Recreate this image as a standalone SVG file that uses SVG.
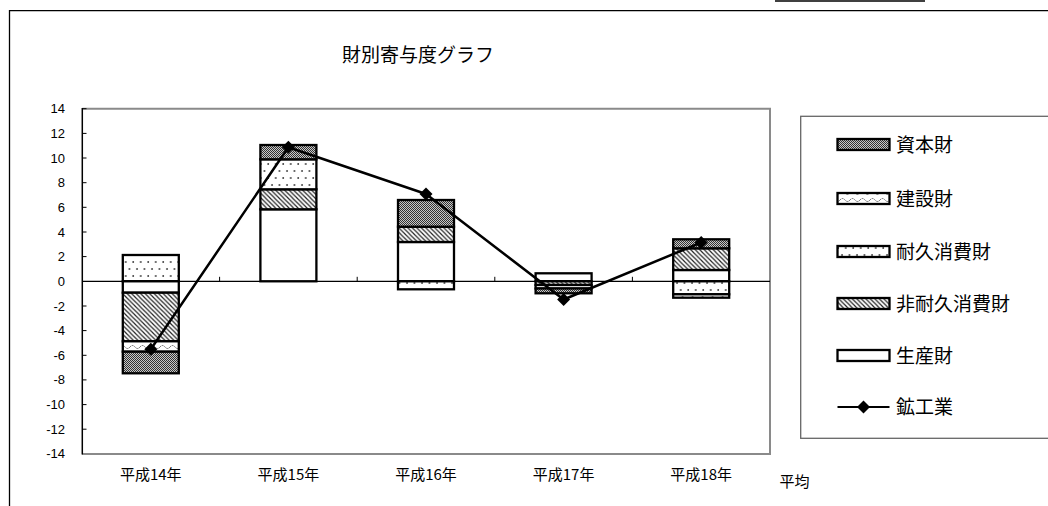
<svg xmlns="http://www.w3.org/2000/svg" width="1048" height="506" viewBox="0 0 1048 506">
<style>
.jp{font-family:"Noto Sans CJK JP","Noto Sans CJK SC",sans-serif;fill:#000}
.num{font-family:"Liberation Sans",Arial,sans-serif;font-size:13px;fill:#000;text-anchor:end}
.seg{stroke:#000;stroke-width:2.3}
.tick{stroke:#000;stroke-width:1}
</style>
<defs>
<pattern id="pCap" width="2" height="2" patternUnits="userSpaceOnUse"><rect width="2" height="2" fill="#c8c8c8"/><rect width="1" height="1" fill="#333"/><rect x="1" y="1" width="1" height="1" fill="#333"/></pattern>
<pattern id="pWave" width="10" height="7" patternUnits="userSpaceOnUse"><rect width="10" height="7" fill="#fff"/><path d="M0,4 Q2.5,1 5,4 T10,4" fill="none" stroke="#555" stroke-width="1" stroke-dasharray="1.5,1"/></pattern>
<pattern id="pDot" width="7.5" height="14" patternUnits="userSpaceOnUse"><rect width="7.5" height="14" fill="#fff"/><circle cx="2" cy="3" r="0.9" fill="#333"/><circle cx="5.75" cy="10" r="0.9" fill="#333"/></pattern>
<pattern id="pHatch" width="4.5" height="4.5" patternUnits="userSpaceOnUse"><rect width="4.5" height="4.5" fill="#fff"/><path d="M-1,-1 L5.5,5.5 M-1,3.5 L1,5.5 M3.5,-1 L5.5,1" stroke="#222" stroke-width="1.2"/></pattern>
<path id="dia" d="M0,-6.5 L6.5,0 L0,6.5 L-6.5,0 Z" fill="#000"/>
</defs>
<rect width="1048" height="506" fill="#fff"/>
<g id="frame">
<path d="M9.5,510 L9.5,10.7 L1050,10.7" fill="none" stroke="#000" stroke-width="1.3"/>
<line x1="775" y1="1" x2="925" y2="1" stroke="#000" stroke-width="1.5"/>
</g>
<g id="title"><text class="jp" x="418" y="62" font-size="19" text-anchor="middle">財別寄与度グラフ</text></g>
<g id="plot-area">
<path d="M82.3,108.7 L770,108.7 L770,453.9 L82.3,453.9" fill="none" stroke="#8a8a8a" stroke-width="2"/>
<line x1="82.3" y1="108" x2="82.3" y2="454.5" stroke="#000" stroke-width="1.5"/>
<g class="tick">
<line x1="82.3" y1="108.7" x2="86.5" y2="108.7"/><line x1="82.3" y1="133.4" x2="86.5" y2="133.4"/><line x1="82.3" y1="158" x2="86.5" y2="158"/><line x1="82.3" y1="182.7" x2="86.5" y2="182.7"/><line x1="82.3" y1="207.3" x2="86.5" y2="207.3"/><line x1="82.3" y1="232" x2="86.5" y2="232"/><line x1="82.3" y1="256.6" x2="86.5" y2="256.6"/><line x1="82.3" y1="306" x2="86.5" y2="306"/><line x1="82.3" y1="330.6" x2="86.5" y2="330.6"/><line x1="82.3" y1="355.3" x2="86.5" y2="355.3"/><line x1="82.3" y1="379.9" x2="86.5" y2="379.9"/><line x1="82.3" y1="404.6" x2="86.5" y2="404.6"/><line x1="82.3" y1="429.2" x2="86.5" y2="429.2"/>
</g>
<g id="y-labels">
<text class="num" x="65" y="113.2">14</text><text class="num" x="65" y="137.9">12</text><text class="num" x="65" y="162.5">10</text><text class="num" x="65" y="187.2">8</text><text class="num" x="65" y="211.8">6</text><text class="num" x="65" y="236.5">4</text><text class="num" x="65" y="261.1">2</text><text class="num" x="65" y="285.8">0</text><text class="num" x="65" y="310.5">-2</text><text class="num" x="65" y="335.1">-4</text><text class="num" x="65" y="359.8">-6</text><text class="num" x="65" y="384.4">-8</text><text class="num" x="65" y="409.1">-10</text><text class="num" x="65" y="433.7">-12</text><text class="num" x="65" y="458.4">-14</text>
</g>
<g id="x-labels" class="jp" font-size="15" text-anchor="middle">
<text x="150.8" y="479.5">平成14年</text><text x="288.4" y="479.5">平成15年</text><text x="426" y="479.5">平成16年</text><text x="563.6" y="479.5">平成17年</text><text x="701.2" y="479.5">平成18年</text><text x="794.5" y="486.5">平均</text>
</g>
</g>
<g id="bar-h14">
<rect class="seg" x="122.8" y="255" width="56" height="26.3" fill="url(#pDot)"/>
<rect class="seg" x="122.8" y="281.3" width="56" height="11.4" fill="#fff"/>
<rect class="seg" x="122.8" y="292.7" width="56" height="48.6" fill="url(#pHatch)"/>
<rect class="seg" x="122.8" y="341.3" width="56" height="10.4" fill="url(#pWave)"/>
<rect class="seg" x="122.8" y="351.7" width="56" height="21.6" fill="url(#pCap)"/>
</g>
<g id="bar-h15">
<rect class="seg" x="260.4" y="209.3" width="56" height="72" fill="#fff"/>
<rect class="seg" x="260.4" y="189.3" width="56" height="20" fill="url(#pHatch)"/>
<rect class="seg" x="260.4" y="159.3" width="56" height="30" fill="url(#pDot)"/>
<rect class="seg" x="260.4" y="145" width="56" height="14.3" fill="url(#pCap)"/>
</g>
<g id="bar-h16">
<rect class="seg" x="398" y="242" width="56" height="39.3" fill="#fff"/>
<rect class="seg" x="398" y="226.7" width="56" height="15.3" fill="url(#pHatch)"/>
<rect class="seg" x="398" y="200" width="56" height="26.7" fill="url(#pCap)"/>
<rect class="seg" x="398" y="281.3" width="56" height="8" fill="url(#pDot)"/>
</g>
<g id="bar-h17">
<rect class="seg" x="535.6" y="273.3" width="56" height="8" fill="#fff"/>
<rect class="seg" x="535.6" y="281.3" width="56" height="3.7" fill="url(#pHatch)"/>
<rect class="seg" x="535.6" y="285" width="56" height="3.5" fill="url(#pWave)"/>
<rect class="seg" x="535.6" y="288.5" width="56" height="4.8" fill="url(#pCap)"/>
</g>
<g id="bar-h18">
<rect class="seg" x="673.2" y="270" width="56" height="11.3" fill="#fff"/>
<rect class="seg" x="673.2" y="248.3" width="56" height="21.7" fill="url(#pHatch)"/>
<rect class="seg" x="673.2" y="239.3" width="56" height="9" fill="url(#pCap)"/>
<rect class="seg" x="673.2" y="281.3" width="56" height="13" fill="url(#pDot)"/>
<rect class="seg" x="673.2" y="294.3" width="56" height="3.4" fill="url(#pWave)"/>
</g>
<g id="zero-axis">
<line x1="82.3" y1="281.3" x2="770" y2="281.3" stroke="#000" stroke-width="1.2"/>
<g class="tick"><line x1="219.6" y1="276.8" x2="219.6" y2="281.3"/><line x1="357.2" y1="276.8" x2="357.2" y2="281.3"/><line x1="494.8" y1="276.8" x2="494.8" y2="281.3"/><line x1="632.4" y1="276.8" x2="632.4" y2="281.3"/></g>
</g>
<g id="connectors">
<polyline points="150.8,349.3 288.4,147.3 426,194 563.6,299.5 701.2,242.5" fill="none" stroke="#000" stroke-width="2.5" stroke-linejoin="round"/>
<use href="#dia" x="150.8" y="349.3"/><use href="#dia" x="288.4" y="147.3"/><use href="#dia" x="426" y="194"/><use href="#dia" x="563.6" y="299.5"/><use href="#dia" x="701.2" y="242.5"/>
</g>
<g id="legend">
<rect x="800.7" y="116.3" width="260" height="322" fill="#fff" stroke="#666" stroke-width="1.3"/>
<g id="leg-capital"><rect class="seg" x="837.5" y="139" width="52" height="11" fill="url(#pCap)"/><text class="jp" x="896" y="151.5" font-size="19">資本財</text></g>
<g id="leg-construction"><rect class="seg" x="837.5" y="193" width="52" height="11" fill="url(#pWave)"/><text class="jp" x="896" y="205.5" font-size="19">建設財</text></g>
<g id="leg-durable"><rect class="seg" x="837.5" y="246" width="52" height="11" fill="url(#pDot)"/><text class="jp" x="896" y="258.5" font-size="19">耐久消費財</text></g>
<g id="leg-nondurable"><rect class="seg" x="837.5" y="298" width="52" height="11" fill="url(#pHatch)"/><text class="jp" x="896" y="310.5" font-size="19">非耐久消費財</text></g>
<g id="leg-producer"><rect class="seg" x="837.5" y="350" width="52" height="11" fill="#fff"/><text class="jp" x="896" y="362.5" font-size="19">生産財</text></g>
<g id="leg-mining"><line x1="837.5" y1="407" x2="889.5" y2="407" stroke="#000" stroke-width="2"/><use href="#dia" x="863.5" y="407"/><text class="jp" x="896" y="413.5" font-size="19">鉱工業</text></g>
</g>
</svg>
